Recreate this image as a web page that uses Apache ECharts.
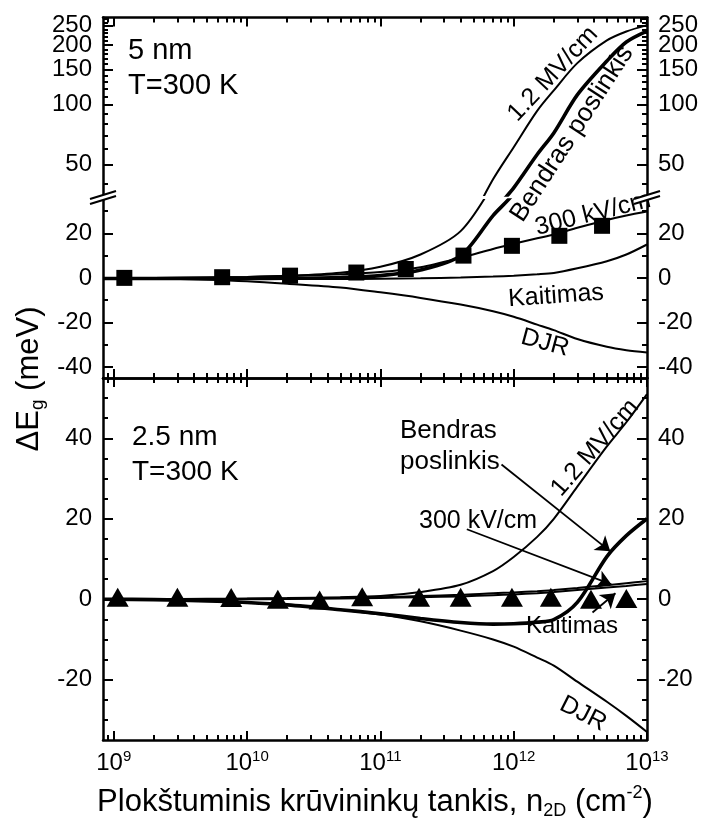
<!DOCTYPE html>
<html><head><meta charset="utf-8">
<script src="https://cdn.jsdelivr.net/npm/echarts@6/dist/echarts.min.js"></script>
<style>html,body{margin:0;padding:0;background:#fff}#c{width:703px;height:828px}</style>
</head><body><div id="c"></div>
<script>
// ---------- data ----------
const X_MIN = 8.3e8, X_MAX = 1e13;
const X_MAJOR = [1e9, 1e10, 1e11, 1e12, 1e13];
const X_MINOR = [];
for (let d = 8; d <= 12; d++) for (let k = 2; k <= 9; k++) { const v = k * Math.pow(10, d); if (v > X_MIN && v < X_MAX) X_MINOR.push(v); }

// top panel (5 nm), upper log section / lower linear section
const TOP_LOG_MIN = 35, TOP_LOG_MAX = 275;
const TOP_LOG_TICKS = [50, 100, 150, 200, 250];
const TOP_LOG_LABELS_A = [50, 100, 150, 250];
const TOP_LOG_LABELS_B = [200];
const TOP_LOG_MINOR = [40, 60, 70, 80, 90, 110, 120, 130, 140, 160, 170, 180, 190, 210, 220, 230, 240, 260, 270];
const TOP_LIN_MIN = -45, TOP_LIN_MAX = 35;
const TOP_LIN_TICKS = [-40, -20, 0, 20];
const TOP_LIN_MINOR = [-30, -10, 10, 30];
// bottom panel (2.5 nm)
const BOT_MIN = -35, BOT_MAX = 55;
const BOT_TICKS = [-20, 0, 20, 40];
const BOT_MINOR = [-30, -25, -15, -10, -5, 5, 10, 15, 25, 30, 35, 45, 50];

const N_CURVE = [8.3e8, 2e9, 5e9, 1e10, 2e10, 5e10, 1e11, 2e11, 4e11, 7e11, 1e12, 1.5e12, 2e12, 3e12, 5e12, 7e12, 1e13];

const T_MV12  = [0, 0, 0.2, 0.4, 0.9, 2.3, 5, 10.5, 21, 42, 61, 93, 118, 162, 211, 234, 252];
const T_TOTAL = [-0.3, -0.3, -0.3, -0.3, -0.2, 0.2, 1, 3.5, 10, 28, 38, 56, 72, 112, 166, 207, 235];
const T_300KV = [0, 0, 0.2, 0.4, 0.8, 1.6, 2.6, 4.8, 9, 13, 15.3, 17.8, 19.5, 22.5, 26, 28, 29.8];
const T_HEAT  = [0, -0.1, -0.2, -0.3, -0.4, -0.5, -0.4, -0.2, 0.2, 0.6, 1, 1.6, 2.2, 4.3, 7.5, 10.5, 15];
const T_DJR   = [0, -0.2, -0.8, -1.5, -2.6, -4.3, -6.5, -9, -12, -15, -17.5, -21, -23.5, -27.5, -31, -32.5, -33.5];
const T_SQ_N  = [1.2e9, 6.5e9, 2.1e10, 6.6e10, 1.55e11, 4.2e11, 9.7e11, 2.2e12, 4.6e12];
const T_SQ    = [0, 0.3, 1, 2.4, 4, 10, 14.4, 18.9, 23.4];

const B_MV12  = [0, 0, 0.1, 0.2, 0.3, 0.5, 0.8, 1.8, 3.6, 7, 10.5, 15.5, 20, 28, 38, 44, 51];
const B_TOTAL = [0, -0.1, -0.4, -0.8, -1.4, -2.6, -3.6, -4.8, -5.8, -6.2, -6.1, -5.7, -5.1, -0.8, 10.6, 15.8, 20];
const B_300KV = [0, 0, 0.05, 0.1, 0.2, 0.35, 0.5, 0.8, 1.1, 1.5, 1.7, 2.0, 2.3, 2.8, 3.5, 4, 4.5];
const B_HEAT  = [0, 0, 0, 0, 0.05, 0.15, 0.3, 0.5, 0.7, 1, 1.2, 1.5, 1.8, 2.3, 2.9, 3.3, 3.8];
const B_DJR   = [0, -0.1, -0.4, -0.8, -1.4, -2.6, -3.8, -5.5, -7.8, -10, -11.8, -14.5, -16.5, -20.5, -25.5, -29, -33];
const B_TRI_N = [1.07e9, 3.0e9, 7.6e9, 1.7e10, 3.5e10, 7.3e10, 1.95e11, 4.0e11, 9.7e11, 1.9e12, 3.8e12, 7.0e12];
const B_TRI   = [0.5, 0.5, 0.4, 0, -0.2, 0.6, 0.5, 0.5, 0.5, 0.5, 0, 0.2];

// annotation arrows (data coordinates: n0, y0, n1, y1)
const ARROWS = [
  [8.1e11, 33.5, 5.3e12, 11.9],
  [4.45e11, 17.4, 5.4e12, 3.7],
  [3.9e12, -3.3, 5.8e12, 1.5]
];

// ---------- styling helpers ----------
const FONT = 'Liberation Sans, Arial, sans-serif';
const K = '#000';
const L10 = Math.log10;
const AX_W = 2.5, TK_W = 2;
const TICK_FS = 24;
const NAME_FS = 31;

function xData(g) {
  return { type: 'log', logBase: 10, gridIndex: g, min: X_MIN, max: X_MAX, show: false };
}
function xDeco(g, pos, ticks, len, line, labels) {
  const ax = {
    type: 'value', gridIndex: g, position: pos, min: L10(X_MIN), max: L10(X_MAX),
    axisLine: { show: line, onZero: false, lineStyle: { color: K, width: AX_W } },
    axisTick: { show: true, inside: true, length: len, customValues: ticks.map(L10), lineStyle: { color: K, width: TK_W } },
    axisLabel: { show: false },
    splitLine: { show: false }
  };
  if (labels) {
    ax.axisLabel = {
      show: true, customValues: X_MAJOR.map(L10), margin: 9, showMinLabel: true, showMaxLabel: true,
      formatter: v => '{b|10}{p|' + Math.round(v) + '}',
      rich: {
        b: { fontSize: TICK_FS, fontFamily: FONT, color: K, lineHeight: 28 },
        p: { fontSize: 15, fontFamily: FONT, color: K, lineHeight: 15, verticalAlign: 'top' }
      }
    };
    ax.name = '{a|Plokštuminis krūvininkų tankis, n}{s|2D}{a| (cm}{p|-2}{a|)}';
    ax.nameLocation = 'middle';
    ax.nameGap = 44;
    ax.nameTextStyle = {
      rich: {
        a: { fontSize: NAME_FS, fontFamily: FONT, color: K, lineHeight: 36 },
        s: { fontSize: 18, fontFamily: FONT, color: K, lineHeight: 18, verticalAlign: 'bottom' },
        p: { fontSize: 18, fontFamily: FONT, color: K, lineHeight: 18, verticalAlign: 'top' }
      }
    };
  }
  return ax;
}
function yAxis(g, pos, min, max, ticks, len, line, labelVals, fmt) {
  const ax = {
    type: 'value', gridIndex: g, position: pos, min: min, max: max,
    axisLine: { show: line, onZero: false, lineStyle: { color: K, width: AX_W } },
    axisTick: { show: true, inside: true, length: len, customValues: ticks, lineStyle: { color: K, width: TK_W } },
    axisLabel: { show: false },
    splitLine: { show: false }
  };
  if (labelVals) {
    ax.axisLabel = { show: true, customValues: labelVals, formatter: fmt || (v => String(Math.round(v))),
      showMinLabel: true, showMaxLabel: true,
      fontSize: TICK_FS, fontFamily: FONT, color: K, margin: 11 };
  }
  return ax;
}
const logFmt = v => String(Math.round(Math.pow(10, v)));

const xAxes = [
  xData(0),                                    // 0
  xDeco(0, 'top', X_MAJOR, 9, true, false),    // 1
  xDeco(0, 'top', X_MINOR, 5, false, false),   // 2
  xData(1),                                    // 3
  xDeco(1, 'bottom', X_MAJOR, 9, true, false), // 4
  xDeco(1, 'bottom', X_MINOR, 5, false, false),// 5
  xData(2),                                    // 6
  xDeco(2, 'bottom', X_MAJOR, 9, true, true),  // 7
  xDeco(2, 'bottom', X_MINOR, 5, false, false),// 8
  xDeco(2, 'top', X_MAJOR, 9, true, false),    // 9
  xDeco(2, 'top', X_MINOR, 5, false, false)    // 10
];
const lmin = L10(TOP_LOG_MIN), lmax = L10(TOP_LOG_MAX);

const yAxes = [
  { type: 'log', logBase: 10, gridIndex: 0, min: TOP_LOG_MIN, max: TOP_LOG_MAX, show: false },                   // 0
  yAxis(0, 'left', lmin, lmax, TOP_LOG_TICKS.map(L10), 10, true, TOP_LOG_LABELS_A.map(L10), logFmt),          // 1
  yAxis(0, 'left', lmin, lmax, TOP_LOG_MINOR.map(L10), 5, false, TOP_LOG_LABELS_B.map(L10), logFmt),          // 2
  yAxis(0, 'right', lmin, lmax, TOP_LOG_TICKS.map(L10), 10, true, TOP_LOG_LABELS_A.map(L10), logFmt),         // 3
  yAxis(0, 'right', lmin, lmax, TOP_LOG_MINOR.map(L10), 5, false, TOP_LOG_LABELS_B.map(L10), logFmt),         // 4
  yAxis(1, 'left', TOP_LIN_MIN, TOP_LIN_MAX, TOP_LIN_TICKS, 10, true, TOP_LIN_TICKS),                         // 5
  yAxis(1, 'left', TOP_LIN_MIN, TOP_LIN_MAX, TOP_LIN_MINOR, 5, false),                                       // 6
  yAxis(1, 'right', TOP_LIN_MIN, TOP_LIN_MAX, TOP_LIN_TICKS, 10, true, TOP_LIN_TICKS),                        // 7
  yAxis(1, 'right', TOP_LIN_MIN, TOP_LIN_MAX, TOP_LIN_MINOR, 5, false),                                      // 8
  yAxis(2, 'left', BOT_MIN, BOT_MAX, BOT_TICKS, 10, true, BOT_TICKS),                                         // 9
  yAxis(2, 'left', BOT_MIN, BOT_MAX, BOT_MINOR, 5, false),                                                   // 10
  yAxis(2, 'right', BOT_MIN, BOT_MAX, BOT_TICKS, 10, true, BOT_TICKS),                                        // 11
  yAxis(2, 'right', BOT_MIN, BOT_MAX, BOT_MINOR, 5, false)                                                   // 12
];

function curve(xs, ys, xi, yi, w, keep) {
  let data = xs.map((x, i) => [x, ys[i]]);
  if (keep) data = data.filter(keep);
  return { type: 'line', xAxisIndex: xi, yAxisIndex: yi, data: data, symbol: 'none', showSymbol: false,
    smooth: 0.3, clip: true, silent: true, lineStyle: { color: K, width: w }, z: 3 };
}
function marks(xs, ys, xi, yi, sym, size) {
  return { type: 'scatter', xAxisIndex: xi, yAxisIndex: yi, data: xs.map((x, i) => [x, ys[i]]),
    symbol: sym, symbolSize: size, itemStyle: { color: K, opacity: 1 }, silent: true, z: 5 };
}
const upperKeep = p => p[1] >= 9;
const THIN = 2, THICK = 3.6;

const series = [
  // top, upper log section
  curve(N_CURVE, T_MV12, 0, 0, THIN, upperKeep),
  curve(N_CURVE, T_TOTAL, 0, 0, THICK, upperKeep),
  // top, lower linear section
  curve(N_CURVE, T_MV12, 3, 5, THIN),
  curve(N_CURVE, T_TOTAL, 3, 5, THICK),
  curve(N_CURVE, T_300KV, 3, 5, THIN),
  curve(N_CURVE, T_HEAT, 3, 5, THIN),
  curve(N_CURVE, T_DJR, 3, 5, THIN),
  marks(T_SQ_N, T_SQ, 3, 5, 'rect', 16),
  // bottom panel
  curve(N_CURVE, B_MV12, 6, 9, THIN),
  curve(N_CURVE, B_TOTAL, 6, 9, THICK),
  curve(N_CURVE, B_300KV, 6, 9, THIN),
  curve(N_CURVE, B_DJR, 6, 9, THIN),
  marks(B_TRI_N, B_TRI, 6, 9, 'triangle', [22, 19])
];
const heat = curve(N_CURVE, B_HEAT, 6, 9, THIN);
heat.markLine = {
  silent: true, animation: false, symbol: ['none', 'arrow'], symbolSize: 14,
  label: { show: false }, emphasis: { disabled: true },
  lineStyle: { color: K, width: 1.8, type: 'solid', opacity: 1 },
  itemStyle: { color: K },
  data: ARROWS.map(a => [{ coord: [a[0], a[1]] }, { coord: [a[2], a[3]] }])
};
series.push(heat);

// ---------- free text & break marks ----------
const deg = Math.PI / 180;
function txt(text, x, y, size, rot, align) {
  return { type: 'text', x: x, y: y, rotation: (rot || 0) * deg, z: 50,
    style: { text: text, font: size + 'px ' + FONT, fill: K, textAlign: align || 'center', textVerticalAlign: 'middle' } };
}
function brk(cx, cy) {
  return [
    { type: 'polygon', z: 60, shape: { points: [[cx - 13, cy + 4], [cx + 13, cy - 4], [cx + 13, cy + 1], [cx - 13, cy + 9]] }, style: { fill: '#fff' } },
    { type: 'line', z: 61, shape: { x1: cx - 13, y1: cy + 4, x2: cx + 13, y2: cy - 4 }, style: { stroke: K, lineWidth: 2 } },
    { type: 'line', z: 61, shape: { x1: cx - 13, y1: cy + 9, x2: cx + 13, y2: cy + 1 }, style: { stroke: K, lineWidth: 2 } }
  ];
}
const yName = {
  type: 'text', x: 29, y: 379, rotation: 90 * deg, z: 50,
  style: {
    text: '{a|ΔE}{s|g}{a| (meV)}', textAlign: 'center', textVerticalAlign: 'middle', fill: K,
    rich: {
      a: { fontSize: NAME_FS, fontFamily: FONT, fill: K, lineHeight: 36 },
      s: { fontSize: 19, fontFamily: FONT, fill: K, lineHeight: 19, verticalAlign: 'bottom' }
    }
  }
};
const graphics = [
  yName,
  txt('5 nm', 128, 51, 29, 0, 'left'),
  txt('T=300 K', 128, 86, 29, 0, 'left'),
  txt('2.5 nm', 132, 437, 28, 0, 'left'),
  txt('T=300 K', 132, 472, 28, 0, 'left'),
  txt('1.2 MV/cm', 553, 74, 25, 47),
  txt('Bendras poslinkis', 572, 134, 26, 57),
  txt('300 kV/cm', 593, 214, 25, 14),
  txt('Kaitimas', 556, 296, 25, 4),
  txt('DJR', 545, 343, 25, -15),
  txt('1.2 MV/cm', 595, 448, 25, 49),
  txt('Bendras', 400, 431, 26, 0, 'left'),
  txt('poslinkis', 400, 462, 26, 0, 'left'),
  txt('300 kV/cm', 419, 521, 25, 0, 'left'),
  txt('Kaitimas', 572, 626, 24, 0),
  txt('DJR', 583, 714, 25, -27)
].concat(brk(103, 195), brk(647, 195));

const chart = echarts.init(document.getElementById('c'), null, { renderer: 'canvas' });
chart.setOption({
  animation: false,
  backgroundColor: '#fff',
  grid: [
    { left: 103, width: 544, top: 17.6, height: 177.4 },
    { left: 103, width: 544, top: 200, height: 178 },
    { left: 103, width: 544, top: 378, height: 362 }
  ],
  xAxis: xAxes,
  yAxis: yAxes,
  series: series,
  graphic: { elements: graphics }
});
</script></body></html>
